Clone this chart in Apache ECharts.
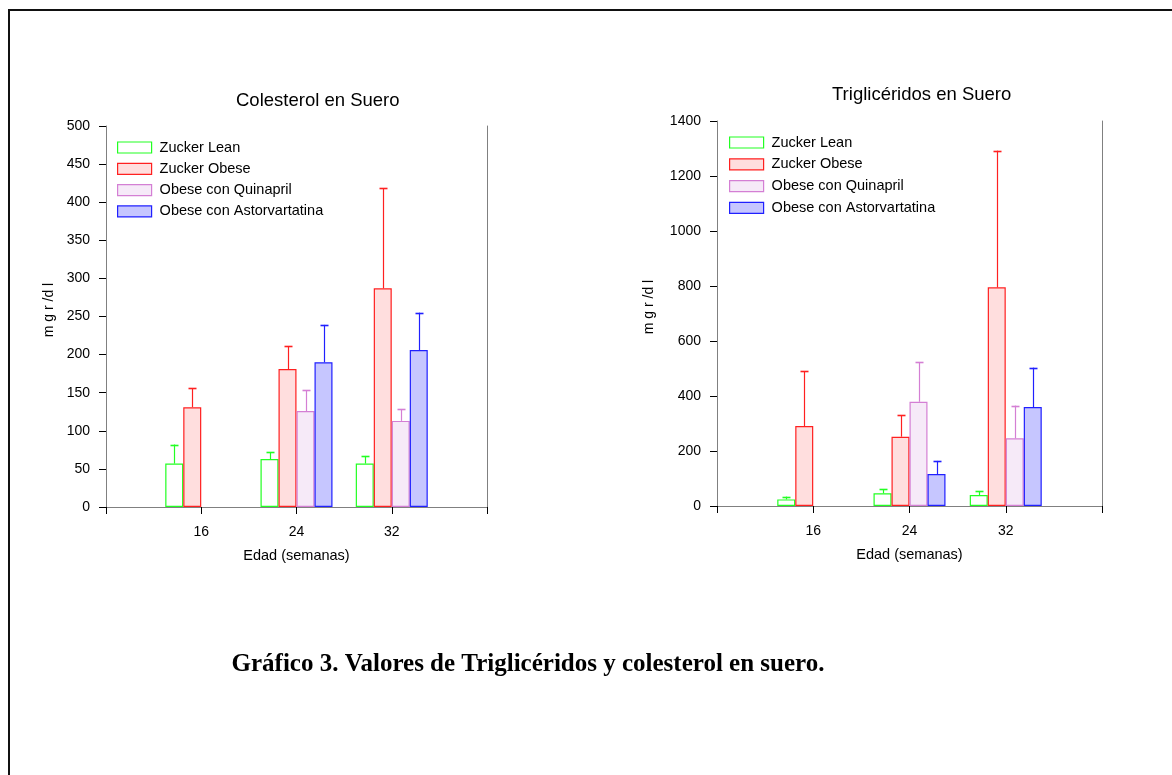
<!DOCTYPE html>
<html>
<head>
<meta charset="utf-8">
<script src="https://cdn.jsdelivr.net/npm/echarts@6/dist/echarts.min.js"></script>
<style>
html,body{margin:0;padding:0;background:#fff;}
#chart{width:1172px;height:775px;}
</style>
</head>
<body>
<div id="chart"></div>
<script>
// ---- data ----
const categories = ['8', '16', '24', '32', '40'];
const xTickLabels = ['', '16', '24', '32', ''];
const seriesNames = ['Zucker Lean', 'Zucker Obese', 'Obese con Quinapril', 'Obese con Astorvartatina'];

// Colesterol en Suero (mg/dl)
const colLean = [null, 57, 63, 57, null];
const colLeanErr = [null, 25, 9, 10, null];
const colObese = [null, 131, 181, 287, null];
const colObeseErr = [null, 25, 30, 131, null];
const colQuin = [null, null, 126, 113, null];
const colQuinErr = [null, null, 27, 15, null];
const colAstor = [null, null, 190, 206, null];
const colAstorErr = [null, null, 49, 49, null];
const colTicks = [0, 500, 50];

// Triglicéridos en Suero (mg/dl)
const triLean = [null, 24, 46, 40, null];
const triLeanErr = [null, 10, 15, 13, null];
const triObese = [null, 291, 252, 795, null];
const triObeseErr = [null, 199, 79, 497, null];
const triQuin = [null, null, 379, 246, null];
const triQuinErr = [null, null, 143, 119, null];
const triAstor = [null, null, 116, 360, null];
const triAstorErr = [null, null, 48, 143, null];
const triTicks = [0, 1400, 200];

// ---- styles ----
const FONT = '"Liberation Sans", Arial, sans-serif';
const styles = [
  {fill: '#ffffff', stroke: '#22ff22'},
  {fill: '#ffdede', stroke: '#ff2020'},
  {fill: '#f6eaf8', stroke: '#d47fd4'},
  {fill: '#c6c6ff', stroke: '#2020ff'}
];
const BAR_W = 18;

const chart = echarts.init(document.getElementById('chart'));

function makeAxes(gi, ticks) {
  const xs = [
    {
      gridIndex: gi, type: 'category', data: categories, boundaryGap: false, position: 'bottom',
      axisLine: {lineStyle: {color: '#000', width: 1}},
      axisTick: {show: true, interval: 0, length: 7, lineStyle: {color: '#000'}},
      axisLabel: {interval: 0, formatter: (v, i) => xTickLabels[i], fontSize: 14, color: '#000', fontFamily: FONT, margin: 18},
      splitLine: {show: false},
      name: 'Edad (semanas)', nameLocation: 'middle', nameGap: 41,
      nameTextStyle: {fontSize: 14.5, color: '#000', fontFamily: FONT}
    },
    {
      gridIndex: gi, type: 'category', data: categories, boundaryGap: false, position: 'top',
      axisLine: {lineStyle: {color: '#808080', width: 1}},
      axisTick: {show: false}, axisLabel: {show: false}, splitLine: {show: false}
    }
  ];
  const ys = [
    {
      gridIndex: gi, type: 'value', min: ticks[0], max: ticks[1], interval: ticks[2], position: 'left',
      axisLine: {show: true, lineStyle: {color: '#808080', width: 1}},
      axisTick: {show: true, length: 7, lineStyle: {color: '#000'}},
      axisLabel: {fontSize: 14, color: '#000', fontFamily: FONT, margin: 16, formatter: v => String(v)},
      splitLine: {show: false}
    },
    {
      gridIndex: gi, type: 'value', min: ticks[0], max: ticks[1], interval: ticks[2], position: 'right',
      axisLine: {show: true, lineStyle: {color: '#808080', width: 1}},
      axisTick: {show: false}, axisLabel: {show: false}, splitLine: {show: false}
    }
  ];
  return {xs, ys};
}

const a0 = makeAxes(0, colTicks);
const a1 = makeAxes(1, triTicks);

function barSeries(k, values, xi, yi) {
  return {
    type: 'bar', name: seriesNames[k], xAxisIndex: xi, yAxisIndex: yi,
    data: values, barWidth: BAR_W, barGap: '0%',
    itemStyle: {color: styles[k].fill, borderColor: styles[k].stroke, borderWidth: 1.2},
    emphasis: {disabled: true}, z: 2
  };
}

function errSeries(k, values, errs, xi, yi) {
  const data = [];
  values.forEach((v, i) => { if (v != null && errs[i] != null) data.push([i, v, errs[i]]); });
  return {
    type: 'custom', name: seriesNames[k] + ' err', xAxisIndex: xi, yAxisIndex: yi, z: 3,
    data: data,
    renderItem: function (params, api) {
      const i = api.value(0), v = api.value(1), e = api.value(2);
      const p0 = api.coord([i, v]);
      const p1 = api.coord([i, v + e]);
      const x = Math.round(p0[0] + (k - 1.5) * BAR_W) + 0.5;
      const col = styles[k].stroke;
      return {
        type: 'group',
        children: [
          {type: 'line', shape: {x1: x, y1: p0[1], x2: x, y2: p1[1]}, style: {stroke: col, lineWidth: 1.2}},
          {type: 'line', shape: {x1: x - 4, y1: Math.round(p1[1]) + 0.5, x2: x + 4, y2: Math.round(p1[1]) + 0.5}, style: {stroke: col, lineWidth: 1.6}}
        ]
      };
    }
  };
}

function legendFor(left, top, gap) {
  return {
    orient: 'vertical', left: left, top: top, itemWidth: 34, itemHeight: 11, itemGap: gap,
    padding: 0, icon: 'rect', selectedMode: false,
    textStyle: {fontSize: 14.5, color: '#000', fontFamily: FONT, padding: [0, 0, 0, 3]},
    data: seriesNames.map((n, k) => ({name: n, itemStyle: {color: styles[k].fill, borderColor: styles[k].stroke, borderWidth: 1.2}}))
  };
}

const option = {
  animation: false,
  backgroundColor: '#fff',
  title: [
    {text: 'Colesterol en Suero', left: 231, top: 86, textStyle: {fontSize: 18.5, fontWeight: 'normal', color: '#000', fontFamily: FONT}},
    {text: 'Triglicéridos en Suero', left: 827, top: 80, textStyle: {fontSize: 18.5, fontWeight: 'normal', color: '#000', fontFamily: FONT}}
  ],
  legend: [legendFor(117, 140, 6.3), legendFor(729, 135, 6.8)],
  grid: [
    {left: 106, top: 126, width: 381, height: 381},
    {left: 717, top: 121, width: 385, height: 385}
  ],
  xAxis: [...a0.xs, ...a1.xs],
  yAxis: [...a0.ys, ...a1.ys],
  series: [
    barSeries(0, colLean, 0, 0), barSeries(1, colObese, 0, 0), barSeries(2, colQuin, 0, 0), barSeries(3, colAstor, 0, 0),
    errSeries(0, colLean, colLeanErr, 0, 0), errSeries(1, colObese, colObeseErr, 0, 0),
    errSeries(2, colQuin, colQuinErr, 0, 0), errSeries(3, colAstor, colAstorErr, 0, 0),
    barSeries(0, triLean, 2, 2), barSeries(1, triObese, 2, 2), barSeries(2, triQuin, 2, 2), barSeries(3, triAstor, 2, 2),
    errSeries(0, triLean, triLeanErr, 2, 2), errSeries(1, triObese, triObeseErr, 2, 2),
    errSeries(2, triQuin, triQuinErr, 2, 2), errSeries(3, triAstor, triAstorErr, 2, 2)
  ],
  graphic: [
    {type: 'rect', shape: {x: 9, y: 10, width: 1300, height: 900}, style: {fill: 'none', stroke: '#111', lineWidth: 2}, silent: true},
    {type: 'text', x: 49, y: 310, rotation: Math.PI / 2, style: {text: 'm g r /d l', font: '14px ' + FONT, fill: '#000', align: 'center', verticalAlign: 'middle'}},
    {type: 'text', x: 649, y: 307, rotation: Math.PI / 2, style: {text: 'm g r /d l', font: '14px ' + FONT, fill: '#000', align: 'center', verticalAlign: 'middle'}},
    {type: 'text', x: 528, y: 665, style: {text: 'Gráfico 3. Valores de Triglicéridos y colesterol en suero.', font: 'bold 25px "Liberation Serif", "Times New Roman", serif', fill: '#000', align: 'center', verticalAlign: 'middle'}}
  ]
};
chart.setOption(option);
</script>
</body>
</html>
